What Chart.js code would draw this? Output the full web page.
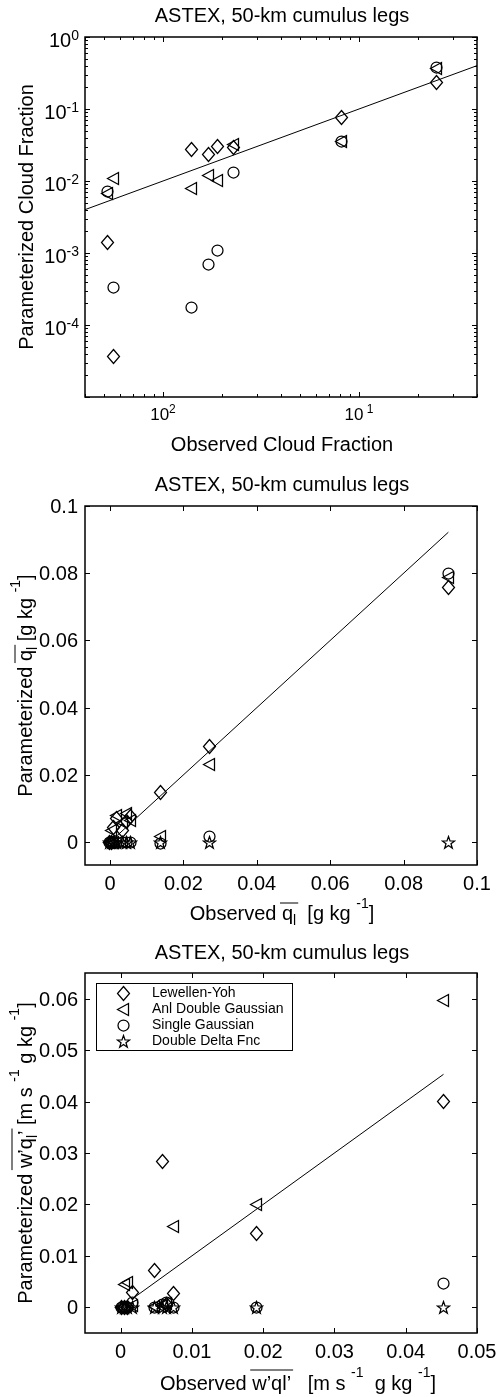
<!DOCTYPE html>
<html>
<head>
<meta charset="utf-8">
<script src="https://cdn.jsdelivr.net/npm/chart.js@4.4.1/dist/chart.umd.min.js"></script>
<style>
  body { margin: 0; background: #fff; }
  #wrap { position: relative; width: 503px; height: 1397px; }
  canvas { position: absolute; left: 0; }
</style>
</head>
<body>
<div id="wrap">
  <canvas id="c1" width="503" height="462" style="top:0px"></canvas>
  <canvas id="c2" width="503" height="470" style="top:462px"></canvas>
  <canvas id="c3" width="503" height="465" style="top:932px"></canvas>
</div>
<script>
const FONT = '"Liberation Sans", Arial, sans-serif';
Chart.defaults.font.family = FONT;

// panel 1 : cloud fraction, log-log
const cfObs = [0.0052, 0.0056, 0.0139, 0.017, 0.019, 0.0229, 0.081, 0.248];
const cfLY  = [0.0014, 0.000036, 0.027, 0.023, 0.030, 0.029, 0.077, 0.23];
const cfADG = [0.0066, 0.0107, 0.0079, 0.0118, 0.0101, 0.032, 0.035, 0.37];
const cfSG  = [0.0071, 0.00033, 0.000174, 0.0007, 0.0011, 0.0133, 0.035, 0.38];
const cfLineX = [0.004, 0.4];
const cfLineY = [0.004, 0.4];
const cfXTicks = [0.01, 0.1];
const cfXTickExp = ['2', ' 1'];
const cfYTicks = [1, 0.1, 0.01, 0.001, 0.0001];
const cfYTickExp = ['0', '-1', '-2', '-3', '-4'];

// panel 2 : liquid water mixing ratio
const qlObs = [0, 0.0004, 0.0009, 0.0019, 0.0035, 0.0045, 0.0057, 0.0139, 0.027, 0.0922];
const qlLY  = [0, 0, 0.0045, 0.0071, 0.0035, 0.006, 0.0077, 0.0149, 0.0285, 0.0758];
const qlADG = [0, 0.0036, 0, 0.008, 0.0058, 0.0086, 0.0065, 0.0018, 0.0232, 0.0788];
const qlSG  = [0, 0, 0, 0, 0, 0, 0, -0.0003, 0.0018, 0.080];
const qlDD  = [0, 0, 0, 0, 0, 0, 0, 0, 0, 0];
const qlLineX = [0.0004, 0.0922];
const qlLineY = [0.0004, 0.0922];
const qlTicks = [0, 0.02, 0.04, 0.06, 0.08, 0.1];
const qlTickLabels = ['0', '0.02', '0.04', '0.06', '0.08', '0.1'];

// panel 3 : liquid water flux
const wqObs = [0.0001, 0.0005, 0.0010, 0.0016, 0.0048, 0.0059, 0.0065, 0.0074, 0.0190, 0.0453];
const wqLY  = [0, 0, 0, 0.0029, 0.0072, 0.0284, 0.0005, 0.0027, 0.0143, 0.0400];
const wqADG = [0, 0.0044, 0.0048, 0.0004, 0.0002, 0.0006, 0.0008, 0.0157, 0.0200, 0.0596];
const wqSG  = [0, 0, 0, 0.0009, 0, 0.0005, 0.0009, 0, 0, 0.0047];
const wqDD  = [0, 0, 0, 0, 0, 0, 0, 0, 0, 0];
const wqLineX = [0.0016, 0.0453];
const wqLineY = [0.0016, 0.0453];
const wqXTicks = [0, 0.01, 0.02, 0.03, 0.04, 0.05];
const wqXTickLabels = ['0', '0.01', '0.02', '0.03', '0.04', '0.05'];
const wqYTicks = [0, 0.01, 0.02, 0.03, 0.04, 0.05, 0.06];
const wqYTickLabels = ['0', '0.01', '0.02', '0.03', '0.04', '0.05', '0.06'];

const seriesNames = ['Lewellen-Yoh', 'Anl Double Gaussian', 'Single Gaussian', 'Double Delta Fnc'];
const TITLE = 'ASTEX, 50-km cumulus legs';

// open matlab-style markers
function marker(w, h, draw) {
  const c = document.createElement('canvas');
  c.width = w; c.height = h;
  const g = c.getContext('2d');
  g.strokeStyle = '#000';
  g.lineWidth = 1.25;
  g.beginPath(); draw(g); g.closePath(); g.stroke();
  return c;
}
const mDiamond = marker(15, 17, g => { g.moveTo(7.5, 1.5); g.lineTo(13.5, 8.5); g.lineTo(7.5, 15.5); g.lineTo(1.5, 8.5); });
const mTriLeft = marker(15, 15, g => { g.moveTo(1.5, 7.5); g.lineTo(12.5, 1.5); g.lineTo(12.5, 13.5); });
const mCircle = marker(15, 15, g => { g.arc(7.5, 7.5, 5.5, 0, Math.PI * 2); });
const mStar = marker(15, 15, g => {
  for (let i = 0; i < 10; i++) {
    const r = i % 2 ? 2.6 : 6.5, a = -Math.PI / 2 + i * Math.PI / 5;
    g.lineTo(7.5 + r * Math.cos(a), 8 + r * Math.sin(a));
  }
});

const pts = (xs, ys) => xs.map((x, i) => ({ x, y: ys[i] }));
const markerSet = (label, style, xs, ys) => ({ label, data: pts(xs, ys), pointStyle: style, pointRadius: 6, showLine: false, clip: false });
const lineSet = (xs, ys) => ({ data: pts(xs, ys), showLine: true, borderColor: '#000', borderWidth: 1, pointRadius: 0 });

function decadeTicks(min, max) {
  const out = [];
  for (let e = Math.floor(Math.log10(min)); e <= Math.ceil(Math.log10(max)); e++) {
    for (let m = 1; m <= 9; m++) {
      const v = +(m * Math.pow(10, e)).toPrecision(6);
      if (v >= min * 0.999 && v <= max * 1.001) out.push({ value: v, major: m === 1 });
    }
  }
  return out;
}
const hidden = {
  ticks: { display: false }, grid: { display: false }, border: { display: false },
  afterFit: s => { if (s.isHorizontal()) s.height = 0; else s.width = 0; }
};
const linAxis = (min, max, ticks) => Object.assign({ type: 'linear', min, max,
  afterBuildTicks: s => { s.ticks = ticks.map(v => ({ value: v, major: true })); } }, hidden);
const logAxis = (min, max) => Object.assign({ type: 'logarithmic', min, max,
  afterBuildTicks: s => { s.ticks = decadeTicks(min, max); } }, hidden);

// text with super/subscripts and overline
function rich(ctx, parts, x, y, o) {
  const size = o.size || 20, small = o.small || 14;
  const fontOf = p => ((p.sup || p.sub) ? small : size) + 'px ' + FONT;
  let w = 0;
  const ws = parts.map(p => { ctx.font = fontOf(p); const m = ctx.measureText(p.t).width; w += m; return m; });
  ctx.save();
  ctx.translate(x, y);
  if (o.rotate) ctx.rotate(-Math.PI / 2);
  ctx.fillStyle = '#000'; ctx.strokeStyle = '#000';
  ctx.textAlign = 'left'; ctx.textBaseline = 'alphabetic';
  let cx = o.align === 'left' ? 0 : o.align === 'right' ? -w : -w / 2;
  let o0 = null, o1 = null;
  parts.forEach((p, i) => {
    ctx.font = fontOf(p);
    ctx.fillText(p.t, cx, p.sup ? -(o.rise || 8) : p.sub ? (o.drop || 5) : 0);
    if (p.ov) { if (o0 === null) o0 = cx; o1 = cx + ws[i]; }
    cx += ws[i];
  });
  if (o0 !== null) {
    ctx.lineWidth = 1;
    ctx.beginPath(); ctx.moveTo(o0 - 2, -o.ov); ctx.lineTo(o1 + 2, -o.ov); ctx.stroke();
  }
  ctx.restore();
}

function drawLegend(chart, L) {
  const ctx = chart.ctx;
  ctx.save();
  ctx.fillStyle = '#fff';
  ctx.fillRect(L.x, L.y, L.w, L.h);
  ctx.strokeStyle = '#000'; ctx.lineWidth = 1;
  ctx.strokeRect(L.x + 0.5, L.y + 0.5, L.w, L.h);
  ctx.font = '14px ' + FONT; ctx.fillStyle = '#000'; ctx.textBaseline = 'middle';
  chart.data.datasets.filter(d => d.label).forEach((d, i) => {
    const cy = L.y + L.first + i * L.step, img = d.pointStyle;
    ctx.drawImage(img, Math.round(L.mx - img.width / 2), Math.round(cy - img.height / 2));
    ctx.fillText(d.label, L.tx, cy);
  });
  ctx.restore();
}

// frame, inward ticks, labels
function decor(cfg) {
  return {
    id: 'decor',
    beforeDatasetsDraw(chart) {
      const { ctx, chartArea: a } = chart;
      const xs = chart.scales.x, ys = chart.scales.y;
      ctx.imageSmoothingEnabled = false; // keep the marker bitmaps sharp
      ctx.save();
      ctx.strokeStyle = '#000'; ctx.lineWidth = 1;
      ctx.beginPath();
      xs.ticks.forEach(t => {
        const p = Math.round(xs.getPixelForValue(t.value)) + 0.5, len = t.major ? 5 : 3;
        ctx.moveTo(p, a.bottom); ctx.lineTo(p, a.bottom - len);
        ctx.moveTo(p, a.top); ctx.lineTo(p, a.top + len);
      });
      ys.ticks.forEach(t => {
        const p = Math.round(ys.getPixelForValue(t.value)) + 0.5, len = t.major ? 5 : 3;
        ctx.moveTo(a.left, p); ctx.lineTo(a.left + len, p);
        ctx.moveTo(a.right, p); ctx.lineTo(a.right - len, p);
      });
      ctx.stroke();
      ctx.lineWidth = 1.5;
      ctx.strokeRect(a.left, a.top, a.right - a.left, a.bottom - a.top);
      ctx.restore();
    },
    afterDraw(chart) {
      const { ctx, chartArea: a } = chart;
      const xs = chart.scales.x, ys = chart.scales.y;
      const midY = (a.top + a.bottom) / 2;
      rich(ctx, [{ t: TITLE }], 282, cfg.titleY, { align: 'center' });
      cfg.xt.vals.forEach((v, i) => rich(ctx, cfg.xt.lab[i], xs.getPixelForValue(v), cfg.xt.y, cfg.xt));
      cfg.yt.vals.forEach((v, i) => rich(ctx, cfg.yt.lab[i], cfg.yt.x, ys.getPixelForValue(v) + cfg.yt.dy, cfg.yt));
      rich(ctx, cfg.xLabel, cfg.xLabelX || 282, cfg.xLabelY, Object.assign({ align: 'center' }, cfg.lab));
      rich(ctx, cfg.yLabel, cfg.yLabelX, midY, Object.assign({ align: 'center', rotate: true }, cfg.lab));
      if (cfg.legend) drawLegend(chart, cfg.legend);
    }
  };
}

function panel(id, datasets, scales, padding, cfg) {
  return new Chart(document.getElementById(id), {
    type: 'scatter',
    data: { datasets },
    options: {
      responsive: false, animation: false, events: [],
      layout: { padding },
      plugins: { legend: { display: false }, tooltip: { enabled: false }, title: { display: false } },
      scales
    },
    plugins: [decor(cfg)]
  });
}

const plain = arr => arr.map(s => [{ t: s }]);
const pow10 = arr => arr.map(e => [{ t: '10' }, { t: e, sup: true }]);

panel('c1', [
  markerSet(seriesNames[0], mDiamond, cfObs, cfLY),
  markerSet(seriesNames[1], mTriLeft, cfObs, cfADG),
  markerSet(seriesNames[2], mCircle, cfObs, cfSG),
  lineSet(cfLineX, cfLineY)
], { x: logAxis(0.004, 0.4), y: logAxis(1e-5, 1) },
{ left: 85, right: 26, top: 37, bottom: 65 },
{
  titleY: 22,
  xt: { vals: cfXTicks, lab: pow10(cfXTickExp), y: 420, size: 17, small: 12, rise: 7, align: 'center' },
  yt: { vals: cfYTicks, lab: pow10(cfYTickExp), x: 79, dy: 10, size: 20, small: 14, rise: 7, align: 'right' },
  xLabel: [{ t: 'Observed Cloud Fraction' }], xLabelY: 451,
  yLabel: [{ t: 'Parameterized Cloud Fraction' }], yLabelX: 33,
  lab: {}
});

panel('c2', [
  markerSet(seriesNames[0], mDiamond, qlObs, qlLY),
  markerSet(seriesNames[1], mTriLeft, qlObs, qlADG),
  markerSet(seriesNames[2], mCircle, qlObs, qlSG),
  markerSet(seriesNames[3], mStar, qlObs, qlDD),
  lineSet(qlLineX, qlLineY)
], { x: linAxis(-0.0068, 0.1, qlTicks), y: linAxis(-0.0068, 0.1, qlTicks) },
{ left: 85, right: 26, top: 44, bottom: 67 },
{
  titleY: 29,
  xt: { vals: qlTicks, lab: plain(qlTickLabels), y: 428, align: 'center' },
  yt: { vals: qlTicks, lab: plain(qlTickLabels), x: 78, dy: 7, align: 'right' },
  xLabel: [{ t: 'Observed ' }, { t: 'q', ov: 1 }, { t: 'l', sub: 1, ov: 1 }, { t: '  [g kg ' }, { t: '-1', sup: 1 }, { t: ']' }],
  xLabelY: 458,
  yLabel: [{ t: 'Parameterized ' }, { t: 'q', ov: 1 }, { t: 'l', sub: 1, ov: 1 }, { t: ' [g kg ' }, { t: '-1', sup: 1 }, { t: ']' }],
  yLabelX: 32,
  lab: { ov: 17, rise: 12, drop: 5 }
});

panel('c3', [
  markerSet(seriesNames[0], mDiamond, wqObs, wqLY),
  markerSet(seriesNames[1], mTriLeft, wqObs, wqADG),
  markerSet(seriesNames[2], mCircle, wqObs, wqSG),
  markerSet(seriesNames[3], mStar, wqObs, wqDD),
  lineSet(wqLineX, wqLineY)
], { x: linAxis(-0.005, 0.05, wqXTicks), y: linAxis(-0.005, 0.065, wqYTicks) },
{ left: 85, right: 26, top: 41, bottom: 64 },
{
  titleY: 27,
  xt: { vals: wqXTicks, lab: plain(wqXTickLabels), y: 426, align: 'center' },
  yt: { vals: wqYTicks, lab: plain(wqYTickLabels), x: 78, dy: 7, align: 'right' },
  xLabel: [{ t: 'Observed ' }, { t: 'w’ql’', ov: 1 }, { t: '   [m s ' }, { t: '-1', sup: 1 }, { t: '  g kg ' }, { t: '-1', sup: 1 }, { t: ']' }],
  xLabelY: 458, xLabelX: 298,
  yLabel: [{ t: 'Parameterized ' }, { t: 'w’q', ov: 1 }, { t: 'l', sub: 1, ov: 1 }, { t: '’', ov: 1 }, { t: ' [m s ' }, { t: '-1', sup: 1 }, { t: ' g kg ' }, { t: '-1', sup: 1 }, { t: ']' }],
  yLabelX: 32,
  lab: { ov: 20, rise: 13, drop: 5 },
  legend: { x: 96, y: 51, w: 196, h: 67, first: 10, step: 16, mx: 123, tx: 152 }
});
</script>
</body>
</html>
